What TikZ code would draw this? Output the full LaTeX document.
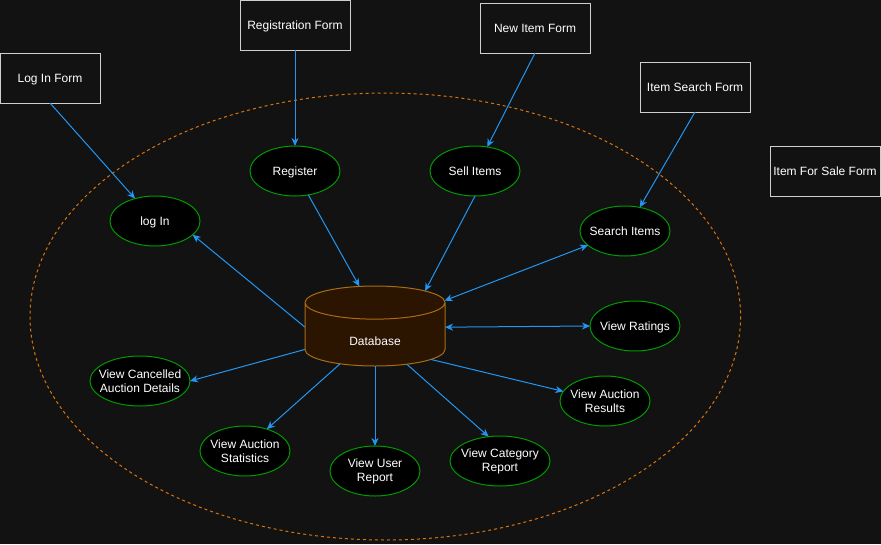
\documentclass[tikz,border=0pt]{standalone}
\usepackage{fontspec}
\setmainfont{Liberation Sans}
\usetikzlibrary{arrows.meta,shapes.geometric}
\definecolor{hgrund}{HTML}{121212}
\definecolor{rahmen}{HTML}{CFCFCF}
\definecolor{gruen}{HTML}{009A00}
\definecolor{blau}{HTML}{2196F3}
\definecolor{orange}{HTML}{D9730D}
\definecolor{dbfill}{HTML}{2B1400}
\definecolor{dbrand}{HTML}{A86D12}
\tikzset{
  schrift/.style={font=\fontsize{12}{14}\selectfont,text=white,align=center},
  einzeilig/.style={text depth=0pt},
  formbox/.style={schrift,einzeilig,rectangle,draw=rahmen,fill=hgrund,line width=1pt,
    minimum width=110pt,minimum height=50pt,inner sep=0pt,outer sep=0pt},
  usecase/.style={schrift,ellipse,draw=gruen,fill=black,line width=1pt,
    minimum width=90pt,minimum height=50pt,inner xsep=-8pt,inner ysep=0pt,outer sep=0pt},
  dbnode/.style={schrift,cylinder,shape border rotate=90,aspect=0.645,
    draw=dbrand,fill=dbfill,line width=1pt,minimum width=140pt,minimum height=80pt,
    inner sep=0pt,outer sep=0pt,anchor=shape center,text height=21.5pt,text depth=0pt},
  conn/.style={-{Stealth[length=8pt,width=7pt,inset=2.5pt]},blau,line width=1pt},
  dconn/.style={{Stealth[length=8pt,width=7pt,inset=2.5pt]}-{Stealth[length=8pt,width=7pt,inset=2.5pt]},blau,line width=1pt},
  grenze/.style={orange,line width=1pt,dash pattern=on 3pt off 3pt},
}
\begin{document}
\begin{tikzpicture}[x=1pt,y=-1pt]
  \fill[hgrund] (0,0) rectangle (881,544);
  \useasboundingbox (0,0) rectangle (881,544);
  % Systemgrenze
  \draw[grenze] (385.3,316.5) ellipse [x radius=355.3,y radius=223.5];
  % Formulare
  \node[formbox,minimum width=100pt] (lif) at (50,78) {Log In Form};
  \node[formbox] (regf) at (295,25) {Registration Form};
  \node[formbox] (nif) at (535,28) {New Item Form};
  \node[formbox] (isf) at (695,87) {Item Search Form};
  \node[formbox] (ifsf) at (825,171) {Item For Sale Form};
  % Anwendungsfaelle
  \node[usecase,einzeilig] (login) at (155,221) {log In};
  \node[usecase,einzeilig] (reg) at (295,171) {Register};
  \node[usecase,einzeilig] (sell) at (475,171) {Sell Items};
  \node[usecase,einzeilig] (search) at (625,231) {Search Items};
  \node[usecase,einzeilig] (ratings) at (635,326) {View Ratings};
  \node[usecase] (results) at (605,401) {View Auction\\Results};
  \node[usecase,minimum width=100pt] (cat) at (500,461) {View Category\\Report};
  \node[usecase] (user) at (375,471) {View User\\Report};
  \node[usecase] (stat) at (245,451) {View Auction\\Statistics};
  \node[usecase,minimum width=100pt] (cancel) at (140,381) {View Cancelled\\Auction Details};
  % Datenbank
  \node[dbnode] (db) at (375,326) {Database};
  % Verbindungen
  \draw[conn] (lif.south) -- (login);
  \draw[conn] (regf.south) -- (reg);
  \draw[conn] (nif.south) -- (sell);
  \draw[conn] (isf.south) -- (search.58);
  \draw[conn] (reg) -- (db.108);
  \draw[conn] (sell.south) -- (db.41);
  \draw[conn] (db.174) -- (login.-20);
  \draw[dconn] (db.26) -- (search.201);
  \draw[dconn] (db.6) -- (ratings.west);
  \draw[conn] (db.-24) -- (results.167);
  \draw[conn] (db.-43) -- (cat.115);
  \draw[conn] (db.south) -- (user.north);
  \draw[conn] (db.220) -- (stat.45);
  \draw[conn] (db.192) -- (cancel.east);
\end{tikzpicture}
\end{document}
